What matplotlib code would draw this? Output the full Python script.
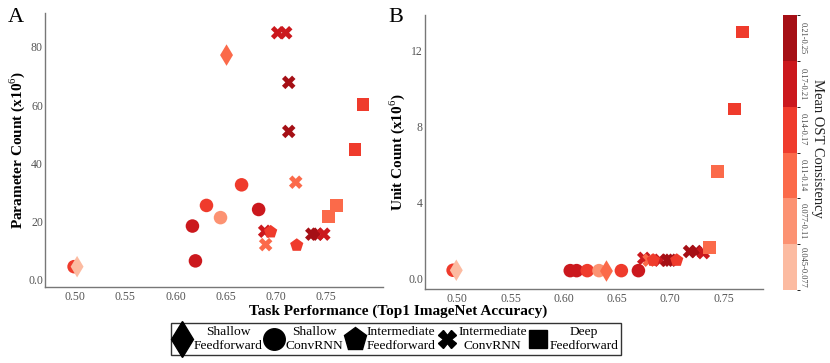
import matplotlib
matplotlib.use("Agg")
import matplotlib.pyplot as plt
import numpy as np
from matplotlib.colors import ListedColormap, BoundaryNorm
from matplotlib.cm import ScalarMappable
from matplotlib.lines import Line2D

plt.rcParams['font.family'] = ['Liberation Serif', 'DejaVu Serif']
plt.rcParams['mathtext.fontset'] = 'custom'
plt.rcParams['mathtext.rm'] = 'Liberation Serif'

# colour bins (Mean OST Consistency), light -> dark
bin_colors = ['#fcbba1', '#fc9272', '#fb6a4a', '#ef3b2c', '#cb181d', '#a50f15']
bin_labels = ['0.045-0.077', '0.077-0.11', '0.11-0.14', '0.14-0.17', '0.17-0.21', '0.21-0.25']

arch_names = ['Shallow\nFeedforward', 'Shallow\nConvRNN', 'Intermediate\nFeedforward',
              'Intermediate\nConvRNN', 'Deep\nFeedforward']
arch_markers = {'SF': 'd', 'SC': 'o', 'IF': 'p', 'IC': 'X', 'DF': 's'}
arch_sizes = {'SF': 120, 'SC': 95, 'IF': 100, 'IC': 95, 'DF': 85}

# panel A: accuracy vs parameter count (x1e6)
acc_a = [0.499, 0.502, 0.651, 0.617, 0.620, 0.631, 0.645, 0.666, 0.683,
         0.702, 0.710, 0.713, 0.713, 0.720, 0.689, 0.690, 0.736, 0.741, 0.748,
         0.695, 0.721, 0.753, 0.761, 0.779, 0.787]
params_a = [4.3, 4.3, 77.2, 18.3, 6.3, 25.4, 21.2, 32.5, 24.0,
            84.9, 84.9, 67.8, 50.9, 33.4, 16.5, 11.9, 15.5, 15.5, 15.5,
            16.3, 11.7, 21.6, 25.4, 44.6, 60.1]
arch_a = ['SC', 'SF', 'SF', 'SC', 'SC', 'SC', 'SC', 'SC', 'SC',
          'IC', 'IC', 'IC', 'IC', 'IC', 'IC', 'IC', 'IC', 'IC', 'IC',
          'IF', 'IF', 'DF', 'DF', 'DF', 'DF']
bin_a = [3, 0, 2, 4, 4, 3, 1, 3, 4,
         4, 4, 5, 5, 2, 4, 2, 5, 5, 4,
         3, 3, 2, 2, 3, 3]

# panel B: accuracy vs unit count (x1e6)
acc_b = [0.496, 0.499, 0.606, 0.612, 0.622, 0.633, 0.640, 0.654, 0.670,
         0.675, 0.680, 0.690, 0.697, 0.700, 0.718, 0.724, 0.731,
         0.684, 0.706, 0.737, 0.744, 0.760, 0.768]
units_b = [0.42, 0.42, 0.40, 0.40, 0.40, 0.40, 0.38, 0.40, 0.40,
           1.05, 0.95, 0.95, 0.95, 0.95, 1.41, 1.41, 1.35,
           0.95, 0.95, 1.62, 5.64, 8.94, 13.0]
arch_b = ['SC', 'SF', 'SC', 'SC', 'SC', 'SC', 'SF', 'SC', 'SC',
          'IC', 'IC', 'IC', 'IC', 'IC', 'IC', 'IC', 'IC',
          'IF', 'IF', 'DF', 'DF', 'DF', 'DF']
bin_b = [3, 0, 4, 4, 3, 1, 2, 3, 4,
         4, 2, 4, 5, 5, 5, 5, 4,
         3, 3, 2, 2, 3, 3]

fig = plt.figure(figsize=(8.3, 3.63), dpi=100)
W, H = 830, 363


def px_axes(l, t, r, b):
    return [l / W, 1 - b / H, (r - l) / W, (b - t) / H]


ax_a = fig.add_axes(px_axes(45, 13, 383, 286.7))
ax_b = fig.add_axes(px_axes(425, 15, 763, 289))


def draw(ax, xs, ys, archs, bins):
    for x, y, a, b in zip(xs, ys, archs, bins):
        ax.scatter(x, y, marker=arch_markers[a], s=arch_sizes[a],
                   color=bin_colors[b], edgecolors='none', zorder=3)
    for side in ['top', 'right']:
        ax.spines[side].set_visible(False)
    for side in ['left', 'bottom']:
        ax.spines[side].set_color('#777777')
        ax.spines[side].set_linewidth(1.0)
    ax.tick_params(axis='x', length=0, pad=3, labelsize=8.5, colors='#555555')
    ax.tick_params(axis='y', length=0, pad=1.5, labelsize=8.5, colors='#555555')
    ax.set_xticks([0.50, 0.55, 0.60, 0.65, 0.70, 0.75])
    ax.set_xticklabels(['0.50', '0.55', '0.60', '0.65', '0.70', '0.75'])


draw(ax_a, acc_a, params_a, arch_a, bin_a)
ax_a.set_xlim(0.470, 0.807)
ax_a.set_ylim(-2.6, 91.7)
ax_a.set_yticks([0, 20, 40, 60, 80])
ax_a.set_yticklabels(['0.0', '20', '40', '60', '80'])
ax_a.set_ylabel('Parameter Count (x10$^6$)', fontsize=11, fontweight='bold', labelpad=1)

draw(ax_b, acc_b, units_b, arch_b, bin_b)
ax_b.set_xlim(0.4696, 0.787)
ax_b.set_ylim(-0.57, 13.9)
ax_b.set_yticks([0, 4, 8, 12])
ax_b.set_yticklabels(['0.0', '4', '8', '12'])
ax_b.set_ylabel('Unit Count (x10$^6$)', fontsize=11, fontweight='bold', labelpad=1)

fig.text(8 / W, 1 - 18 / H, 'A', fontsize=16, va='center', ha='left')
fig.text(388 / W, 1 - 18 / H, 'B', fontsize=16, va='center', ha='left')

fig.text(398 / W, 1 - 311 / H, 'Task Performance (Top1 ImageNet Accuracy)',
         fontsize=11, fontweight='bold', ha='center', va='center')

# colour bar
cax = fig.add_axes(px_axes(783, 15, 797, 290))
cmap = ListedColormap(bin_colors)
norm = BoundaryNorm(np.arange(7), cmap.N)
cb = fig.colorbar(ScalarMappable(norm=norm, cmap=cmap), cax=cax)
cb.outline.set_visible(False)
cb.set_ticks(np.arange(6) + 0.5)
cb.set_ticklabels(bin_labels)
cax.tick_params(length=0, pad=1, labelsize=6, colors='#444444')
for t in cax.get_yticklabels():
    t.set_rotation(-90)
    t.set_va('center')
fig.text(817 / W, 1 - 148 / H, 'Mean OST Consistency', rotation=-90,
         fontsize=10.5, ha='center', va='center', color='#222222')

# legend
handles = [Line2D([], [], marker=arch_markers[k], color='black', linestyle='none',
                  markersize=ms)
           for k, ms in zip(['SF', 'SC', 'IF', 'IC', 'DF'], [18, 15.5, 17, 12.5, 12.5])]
leg = fig.legend(handles, arch_names, loc='center', ncol=5,
                 bbox_to_anchor=(396 / W, 1 - 339 / H), fontsize=9.7,
                 frameon=True, fancybox=False, edgecolor='black',
                 handlelength=1.3, handletextpad=0.2, columnspacing=0.2,
                 borderpad=0.2, labelspacing=0.1)
leg.get_frame().set_linewidth(1.0)
for t in leg.get_texts():
    t.set_multialignment('center')

fig.savefig('out.png', dpi=100)
